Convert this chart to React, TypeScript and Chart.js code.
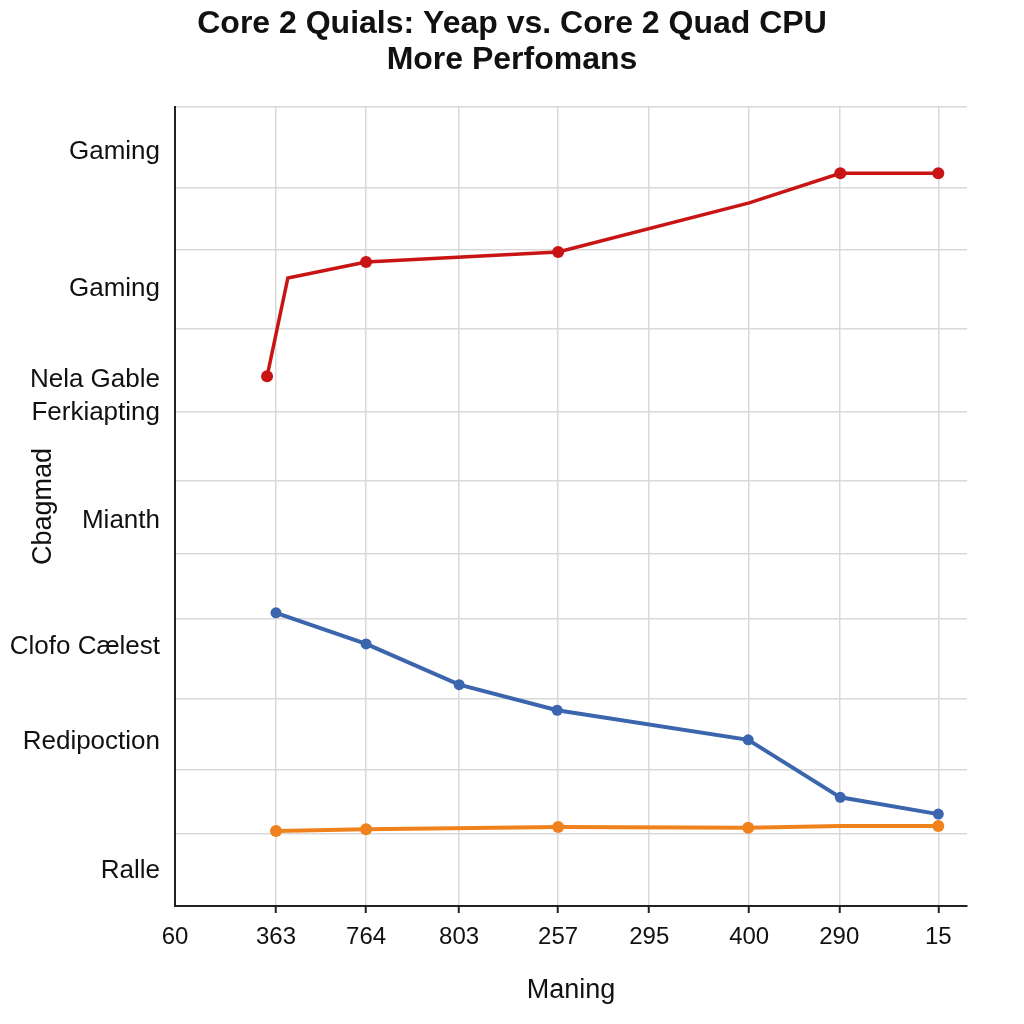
import React, { useEffect, useRef } from 'react';
import { Chart, registerables } from 'chart.js';

Chart.register(...registerables);

// ---- text ----
const titleLines = ['Core 2 Quials: Yeap vs. Core 2 Quad CPU', 'More Perfomans'];
const xAxisTitle = 'Maning';
const yAxisTitle = 'Cbagmad';

// ---- x axis (units along the axis) ----
const xMax = 8.0;
const xTickValues = [0, 1.02, 1.93, 2.87, 3.87, 4.79, 5.8, 6.71, 7.71];
const xTickLabels = ['60', '363', '764', '803', '257', '295', '400', '290', '15'];

// ---- y axis ----
const yMax = 100;
const yGridValues = [0, 9.0, 17.1, 25.9, 36.0, 44.05, 53.2, 61.8, 72.2, 82.1, 89.9, 100];
const yLabelValues = [94.4, 77.2, 63.8, 48.2, 32.4, 20.5, 4.4];
const yLabelTexts: string[][] = [
  ['Gaming'],
  ['Gaming'],
  ['Nela Gable', 'Ferkiapting'],
  ['Mianth'],
  ['Clofo Cælest'],
  ['Redipoction'],
  ['Ralle'],
];

// ---- series ----
const redX = [0.93, 1.14, 1.93, 3.87, 5.8, 6.72, 7.71];
const redY = [66.3, 78.6, 80.6, 81.85, 88.0, 91.7, 91.7];
const redMarker = [true, false, true, true, false, true, true];

const blueX = [1.02, 1.93, 2.87, 3.86, 5.79, 6.72, 7.71];
const blueY = [36.7, 32.8, 27.7, 24.5, 20.8, 13.6, 11.5];
const blueMarker = [true, true, true, true, true, true, true];

const orangeX = [1.02, 1.93, 3.87, 5.79, 6.72, 7.71];
const orangeY = [9.4, 9.6, 9.9, 9.8, 10.0, 10.0];
const orangeMarker = [true, true, true, true, false, true];

const FONT = "'Liberation Sans', Arial, Helvetica, sans-serif";

function pts(xs: number[], ys: number[]) {
  return xs.map((x, i) => ({ x, y: ys[i] }));
}
function near(a: number, b: number) {
  return Math.abs(a - b) < 1e-6;
}

export default function App() {
  const ref = useRef<HTMLCanvasElement | null>(null);

  useEffect(() => {
    if (!ref.current) return;
    const mk = (
      label: string,
      xs: number[],
      ys: number[],
      markers: boolean[],
      color: string,
      width: number,
      radius: number
    ) => ({
      label,
      data: pts(xs, ys),
      borderColor: color,
      backgroundColor: color,
      borderWidth: width,
      pointRadius: markers.map((m) => (m ? radius : 0)),
      pointBorderWidth: 0,
      pointBackgroundColor: color,
      tension: 0,
      fill: false,
    });

    const chart = new Chart(ref.current, {
      type: 'line',
      data: {
        datasets: [
          mk('Red', redX, redY, redMarker, '#c81414', 3.5, 6),
          mk('Blue', blueX, blueY, blueMarker, '#3b65ad', 4, 5.5),
          mk('Orange', orangeX, orangeY, orangeMarker, '#f0821e', 4, 6),
        ],
      },
      options: {
        animation: false,
        responsive: true,
        maintainAspectRatio: false,
        layout: { padding: { left: 0, right: 0, top: 0, bottom: 0 } },
        plugins: {
          legend: { display: false },
          tooltip: { enabled: false },
          title: {
            display: true,
            text: titleLines,
            color: '#111',
            font: { family: FONT, size: 32, weight: 'bold', lineHeight: 1.125 },
            padding: { top: 6, bottom: 29 },
          },
        },
        scales: {
          x: {
            type: 'linear',
            min: 0,
            max: xMax,
            afterBuildTicks: (s: any) => {
              s.ticks = xTickValues.map((v) => ({ value: v }));
            },
            afterFit: (s: any) => {
              s.height = 118;
            },
            grid: {
              color: '#d9d9d9',
              lineWidth: 1.5,
              tickColor: (ctx: any) => (ctx.index === 0 ? 'rgba(0,0,0,0)' : '#222'),
              tickLength: 7,
              tickWidth: 2,
            },
            border: { display: true, color: '#222', width: 2 },
            ticks: {
              autoSkip: false,
              maxRotation: 0,
              padding: 10,
              color: '#111',
              font: { family: FONT, size: 24 },
              callback: (_v: any, i: number) => xTickLabels[i],
            },
            title: {
              display: true,
              text: xAxisTitle,
              color: '#111',
              font: { family: FONT, size: 27, lineHeight: 1.2 },
              padding: { top: 0, bottom: 17 },
            },
          },
          y: {
            type: 'linear',
            min: 0,
            max: yMax,
            afterBuildTicks: (s: any) => {
              const all = [...yGridValues, ...yLabelValues].sort((a, b) => a - b);
              s.ticks = all.map((v) => ({ value: v }));
            },
            afterFit: (s: any) => {
              s.width = 175;
            },
            grid: {
              drawTicks: false,
              lineWidth: 1.5,
              color: (ctx: any) => {
                const v = ctx.tick ? ctx.tick.value : NaN;
                return yGridValues.some((g) => near(g, v)) ? '#d9d9d9' : 'rgba(0,0,0,0)';
              },
            },
            border: { display: true, color: '#222', width: 2 },
            ticks: {
              autoSkip: false,
              padding: 15,
              color: '#111',
              font: { family: FONT, size: 26, lineHeight: 1.27 },
              callback: (v: any) => {
                const idx = yLabelValues.findIndex((l) => near(l, Number(v)));
                return idx >= 0 ? yLabelTexts[idx] : '';
              },
            },
            title: {
              display: true,
              text: yAxisTitle,
              color: '#111',
              font: { family: FONT, size: 27, lineHeight: 1.2 },
              padding: { top: 27, bottom: 0 },
            },
          },
          yRight: {
            type: 'linear',
            position: 'right',
            min: 0,
            max: 1,
            display: true,
            grid: { display: false, drawTicks: false },
            border: { display: false },
            ticks: { display: false },
            afterFit: (s: any) => {
              s.width = 57;
            },
          },
        },
      },
    } as any);

    return () => chart.destroy();
  }, []);

  return (
    <div style={{ position: 'absolute', left: 0, top: 0, width: 1024, height: 1024, background: '#fff' }}>
      <canvas ref={ref} />
    </div>
  );
}
